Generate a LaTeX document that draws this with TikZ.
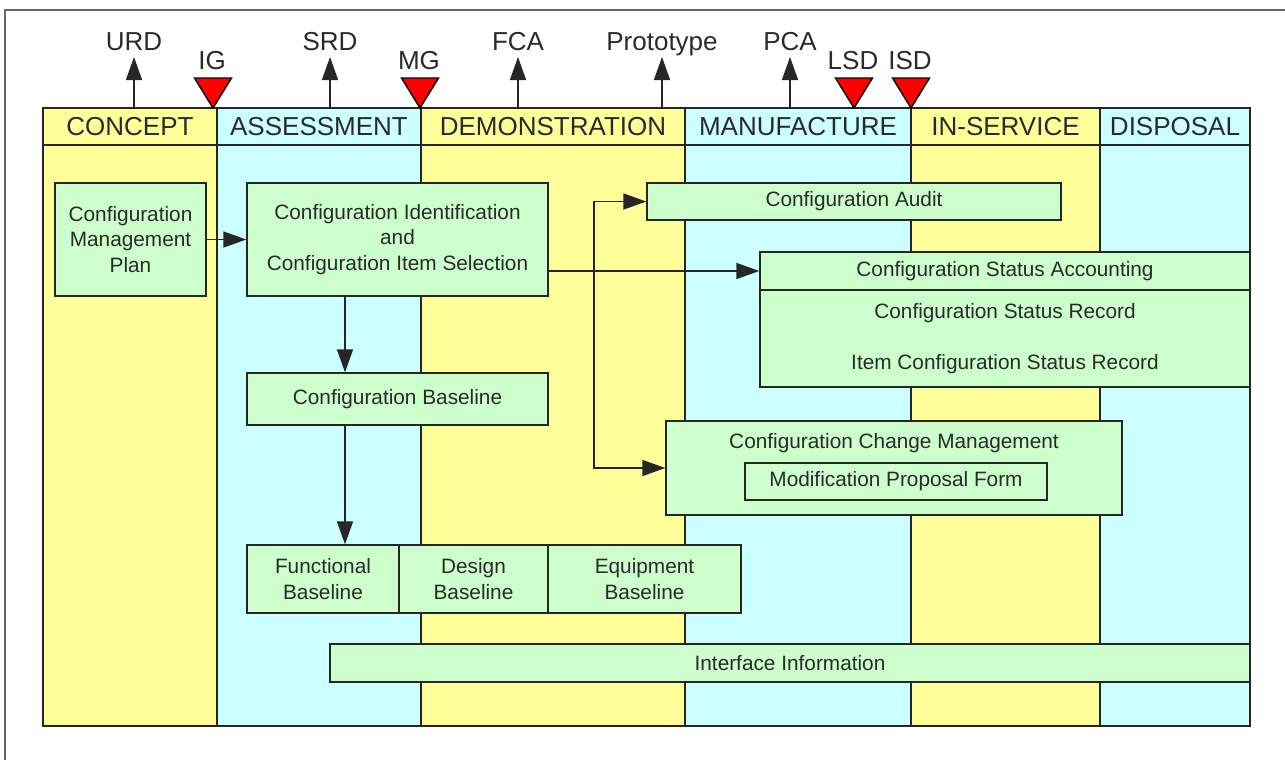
\documentclass[tikz,border=0pt]{standalone}
\usepackage{fontspec}
\setmainfont{Liberation Sans}
\usetikzlibrary{arrows.meta}
\definecolor{phaseyellow}{HTML}{FFFF99}
\definecolor{phasecyan}{HTML}{CCFFFF}
\definecolor{boxgreen}{HTML}{CCFFCC}
\definecolor{inkgray}{HTML}{2A2A2A}
\tikzset{
  box/.style={draw=black!85,fill=boxgreen,line width=0.7pt,inner sep=0pt,align=center,
    text=inkgray,font=\fontsize{10.4}{12.7}\selectfont},
  boxtext/.style={inner sep=0pt,align=center,text=inkgray,font=\fontsize{10.4}{12.7}\selectfont},
  phasetext/.style={inner sep=0pt,text=inkgray,font=\fontsize{13}{15}\selectfont},
  eventtext/.style={inner sep=0pt,anchor=base,text=inkgray,font=\fontsize{13}{15}\selectfont},
  flow/.style={draw=black!85,line width=0.8pt,-{Triangle[length=11.5pt,width=8pt]}},
  flowboth/.style={draw=black!85,line width=0.8pt,{Triangle[length=11.5pt,width=8pt]}-{Triangle[length=11.5pt,width=8pt]}},
  gate/.style={draw=black,fill=red,line width=0.7pt,line join=miter},
}
\begin{document}
\begin{tikzpicture}[x=0.5pt,y=-0.5pt]
\useasboundingbox (0,0) rectangle (1285,760);
% frame
\draw[gray!80!black,line width=1pt] (5,760) -- (5,10) -- (1285,10);
% phase columns
\foreach \xa/\xb/\col/\name/\lbl in {43/217/phaseyellow/concept/CONCEPT,
    217/421/phasecyan/assess/ASSESSMENT,
    421/685/phaseyellow/demo/DEMONSTRATION,
    685/911/phasecyan/manuf/MANUFACTURE,
    911/1100/phaseyellow/inserv/IN-SERVICE,
    1100/1250/phasecyan/disp/DISPOSAL} {
  \path[draw=black!85,fill=\col,line width=0.7pt] (\xa,108) rectangle (\xb,726);
  \draw[black!85,line width=0.7pt] (\xa,145) -- (\xb,145);
  \node[phasetext] (\name) at ({(\xa+\xb)/2},127) {\lbl};
}
% milestones
\foreach \x/\name/\lbl in {134/urd/URD,330/srd/SRD,518/fca/FCA,662/proto/Prototype,790/pca/PCA} {
  \coordinate (\name) at (\x,108);
  \coordinate (\name tip) at (\x,57);
  \draw[flow] (\name) -- (\name tip);
  \node[eventtext] at (\x,50) {\lbl};
}
% gates
\foreach \x/\name/\lbl in {213/ig/IG,420/mg/MG,854/lsd/LSD,911/isd/ISD} {
  \coordinate (\name) at (\x,108);
  \draw[gate] (\name) -- ++(-18.5,-30) -- ++(37,0) -- cycle;
  \node[eventtext] at (\x-1,69) {\lbl};
}
% boxes
\node[box,minimum width=75.5pt,minimum height=56.5pt] (cmp) at (130.5,239.5)
  {Configuration\\Management\\Plan};
\node[box,minimum width=150.5pt,minimum height=56.5pt] (ci) at (397.5,239.5)
  {Configuration Identification\\and\\Configuration Item Selection};
\node[box,minimum width=207pt,minimum height=18.5pt] (audit) at (854,201.5) {Configuration Audit};
\node[box,minimum width=245pt,minimum height=19pt] (csa) at (1005,271) {Configuration Status Accounting};
\node[box,minimum width=245pt,minimum height=48.5pt] (csr) at (1005,338.5)
  {Configuration Status Record\\[12.7pt]Item Configuration Status Record};
\node[box,minimum width=150.5pt,minimum height=26pt] (cb) at (397.5,399) {Configuration Baseline};
\node[box,minimum width=228pt,minimum height=47pt] (ccm) at (894,468) {};
\node[boxtext] (ccmtitle) at (894,443) {Configuration Change Management};
\node[box,minimum width=151pt,minimum height=18.5pt] (mpf) at (896,481.5) {Modification Proposal Form};
\node[box,minimum width=76pt,minimum height=34pt] (fb) at (323,579) {Functional\\Baseline};
\node[box,minimum width=74.5pt,minimum height=34pt] (db) at (473.5,579) {Design\\Baseline};
\node[box,minimum width=96.5pt,minimum height=34pt] (eb) at (644.5,579) {Equipment\\Baseline};
\node[box,minimum width=460pt,minimum height=19pt] (ii) at (790,663) {Interface Information};
% connectors
\draw[flow] (cmp) -- (ci);
\draw[flow] (ci.east |- csa.west) -- (csa.west);
\draw[flow] ([xshift=-26.25pt]ci.south) coordinate (ciout) -- (ciout |- cb.north);
\draw[flow] ([xshift=-26.25pt]cb.south) coordinate (cbout) -- (cbout |- fb.north);
\coordinate (fork) at (594,300);
\draw[flowboth] (audit.west) -- (audit.west -| fork) -- (ccm.west -| fork) -- (ccm.west);
\end{tikzpicture}
\end{document}
